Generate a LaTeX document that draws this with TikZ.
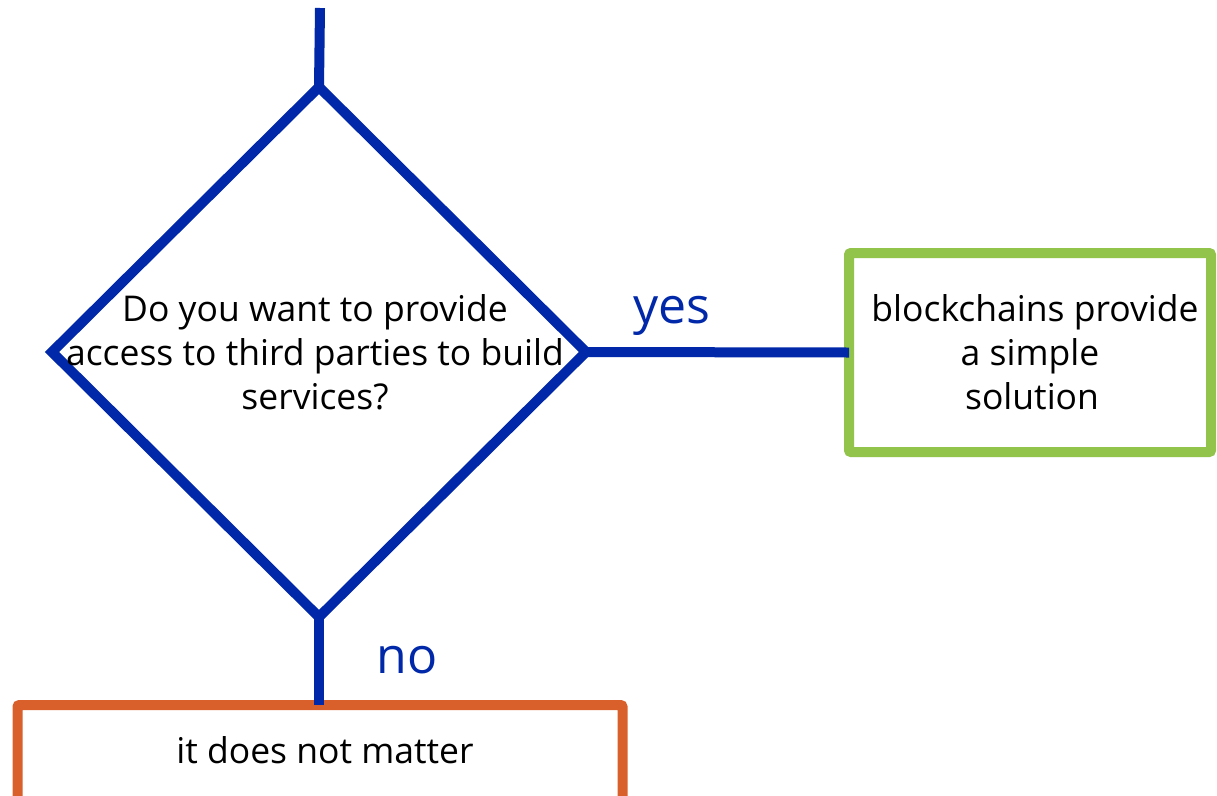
\documentclass[tikz,border=0pt]{standalone}
\usepackage{fontspec}
\setmainfont{Open Sans}
\usetikzlibrary{shapes.geometric}
\definecolor{flowblue}{HTML}{0028A8}
\definecolor{yesgreen}{HTML}{92C34B}
\definecolor{noorange}{HTML}{D9602A}
\begin{document}
\begin{tikzpicture}[x=1pt,y=-1pt,
  flowline/.style={draw=flowblue,line width=10pt},
  question/.style={diamond,draw=flowblue,line width=10pt,line join=miter,
    minimum width=534pt,minimum height=530pt,inner sep=0pt,outer sep=0pt},
  boxtext/.style={align=center,inner sep=0pt,font=\fontsize{35.5}{44}\selectfont},
  outcome/.style={rectangle,line width=10pt,rounded corners=2pt,
    inner sep=0pt,outer sep=0pt},
  answer/.style={text=flowblue,font=\fontsize{50}{56}\selectfont}]
\useasboundingbox (0,0) rectangle (1217,795);
\clip (0,0) rectangle (1217,795);
% decision diamond and its question
\node[question] (q) at (319,352) {};
\node[boxtext] (qtext) at ([xshift=-4pt]q.center) {Do you want to provide\\access to third parties to build\\services?};
% outcomes
\node[outcome,draw=yesgreen,minimum width=362pt,minimum height=199pt] (yes) at (1030,352.5) {};
\node[boxtext] (yestext) at (yes.center) {\hspace*{10pt}blockchains provide\\a simple\\\hspace*{4pt}solution};
\node[outcome,draw=noorange,minimum width=605pt,minimum height=100pt] (no) at (320,755) {};
\node[boxtext] (notext) at (325,750) {it does not matter};
% connectors
\coordinate (entry) at (320,8);
\draw[flowline] (entry) -- (q.north);
\draw[flowline] (q.east) -- (yes.west);
\draw[flowline] (q.south) -- (q.south |- no.north);
\node[answer] (yeslabel) at (672,316) {yes};
\node[answer] (nolabel) at (407,660) {no};
\end{tikzpicture}
\end{document}
